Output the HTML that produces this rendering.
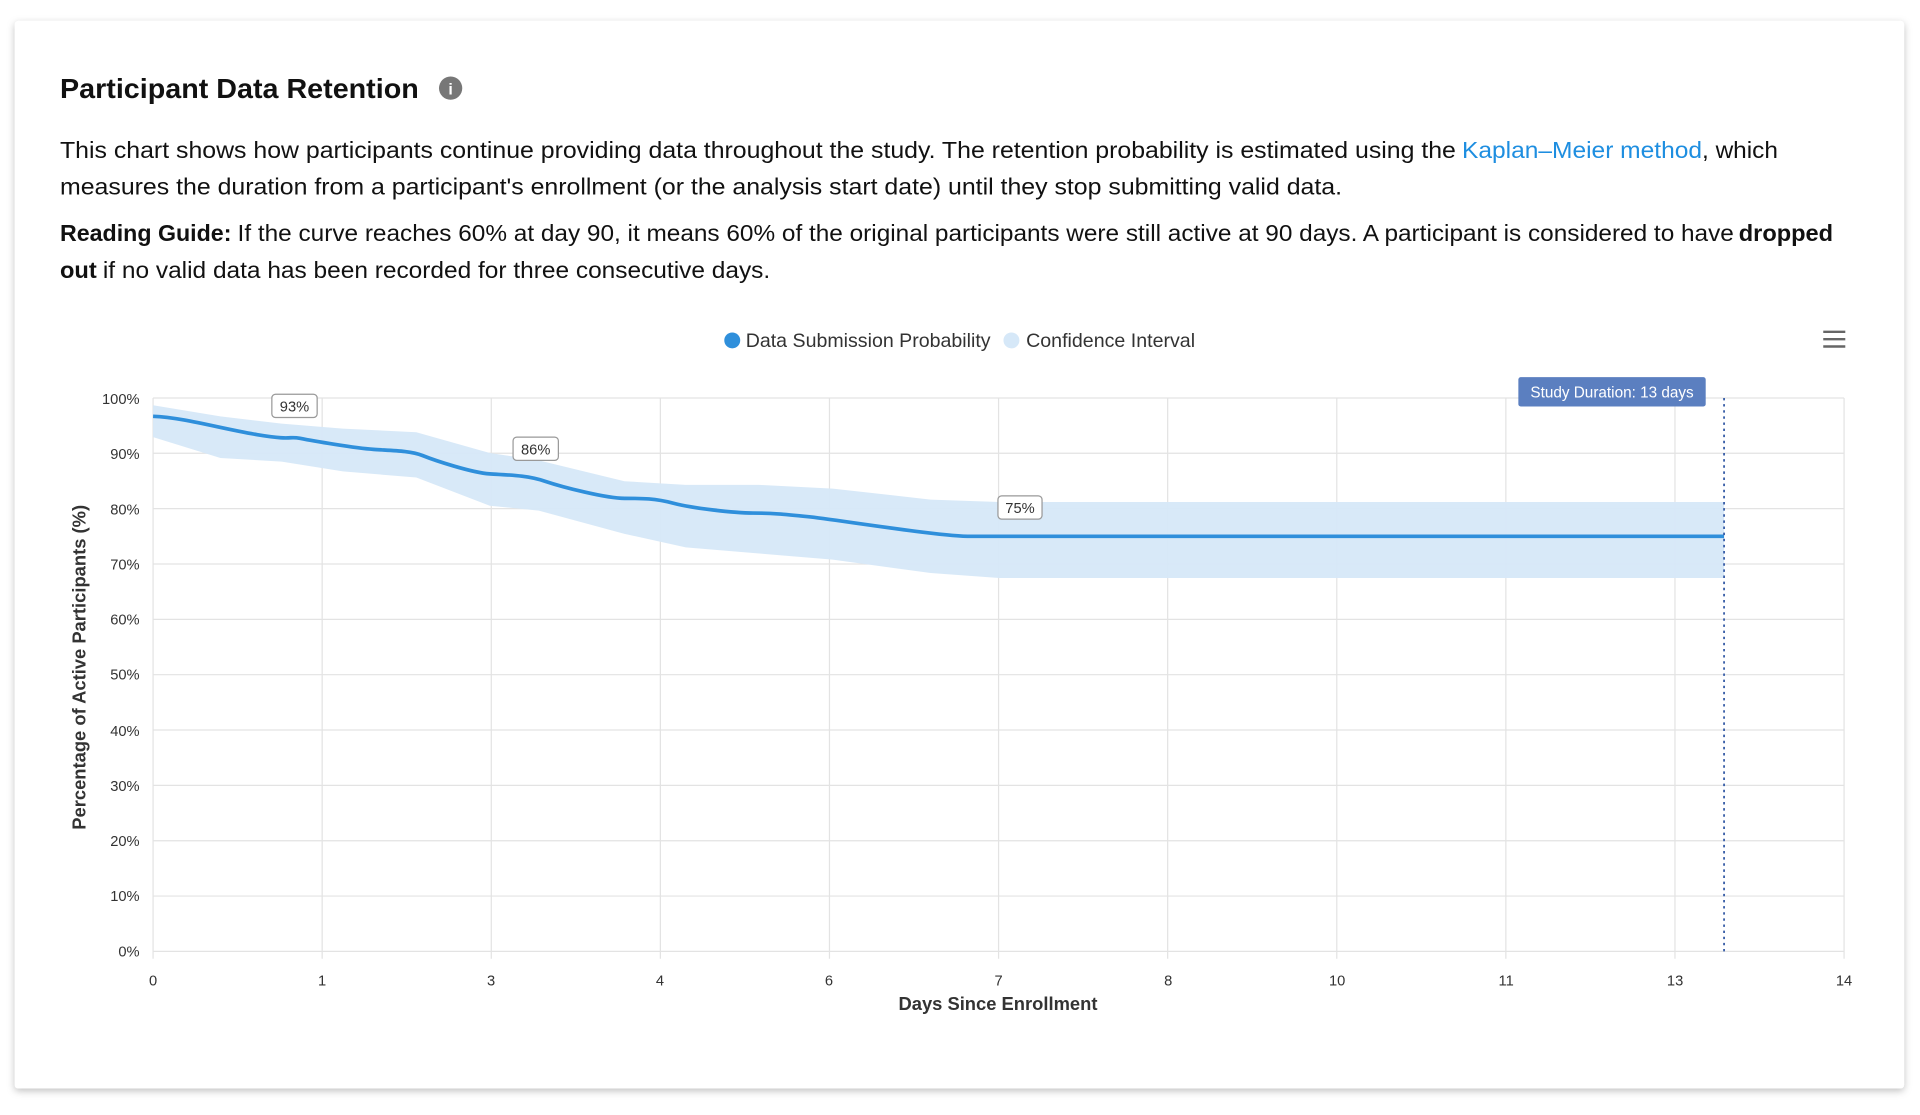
<!DOCTYPE html>
<html><head><meta charset="utf-8"><style>
html,body{margin:0;padding:0;background:#fff;width:1920px;height:1115px;overflow:hidden}
svg{display:block}
text{font-family:"Liberation Sans",Arial,sans-serif}
</style></head><body>
<svg width="1920" height="1115" viewBox="0 0 1568 910.6" xmlns="http://www.w3.org/2000/svg">
<defs><filter id="sh" x="-5%" y="-5%" width="110%" height="115%"><feDropShadow dx="0" dy="2" stdDeviation="3" flood-color="#000" flood-opacity="0.25"/></filter></defs>
<rect x="0" y="0" width="1568" height="911" fill="#fff"/>
<rect x="12" y="17" width="1543" height="872" rx="3" fill="#fff" filter="url(#sh)"/>
<text x="49" y="80" font-size="23" font-weight="bold" fill="#111" textLength="293" lengthAdjust="spacingAndGlyphs">Participant Data Retention</text>
<circle cx="368" cy="72" r="9.5" fill="#777"/><text x="368" y="77" font-size="13" font-weight="bold" fill="#fff" text-anchor="middle">i</text>
<g font-size="19" fill="#111">
<text x="49" y="129" textLength="1140" lengthAdjust="spacingAndGlyphs">This chart shows how participants continue providing data throughout the study. The retention probability is estimated using the</text>
<text x="1194" y="129" fill="#1e8ee0" textLength="196" lengthAdjust="spacingAndGlyphs">Kaplan–Meier method</text>
<text x="1390" y="129" textLength="62" lengthAdjust="spacingAndGlyphs">, which</text>
<text x="49" y="159" textLength="1047" lengthAdjust="spacingAndGlyphs">measures the duration from a participant's enrollment (or the analysis start date) until they stop submitting valid data.</text>
<text x="49" y="197" font-weight="bold" textLength="140" lengthAdjust="spacingAndGlyphs">Reading Guide:</text>
<text x="194" y="197" textLength="1222" lengthAdjust="spacingAndGlyphs">If the curve reaches 60% at day 90, it means 60% of the original participants were still active at 90 days. A participant is considered to have</text>
<text x="1420" y="197" font-weight="bold" textLength="77" lengthAdjust="spacingAndGlyphs">dropped</text>
<text x="49" y="227" font-weight="bold" textLength="30" lengthAdjust="spacingAndGlyphs">out</text>
<text x="84" y="227" textLength="545" lengthAdjust="spacingAndGlyphs">if no valid data has been recorded for three consecutive days.</text>
</g>
<circle cx="598" cy="278" r="6.5" fill="#2f8fdb"/>
<text x="609" y="283.5" font-size="15.5" fill="#333" textLength="200" lengthAdjust="spacingAndGlyphs">Data Submission Probability</text>
<circle cx="826" cy="278" r="6.5" fill="#d6e8f8"/>
<text x="838" y="283.5" font-size="15.5" fill="#333" textLength="138" lengthAdjust="spacingAndGlyphs">Confidence Interval</text>
<g stroke="#666" stroke-width="2"><line x1="1489" y1="271" x2="1507" y2="271"/><line x1="1489" y1="277" x2="1507" y2="277"/><line x1="1489" y1="283" x2="1507" y2="283"/></g>
<g stroke="#e3e3e3" stroke-width="1">
<line x1="125" y1="325" x2="1506" y2="325"/><line x1="125" y1="370.2" x2="1506" y2="370.2"/><line x1="125" y1="415.4" x2="1506" y2="415.4"/><line x1="125" y1="460.6" x2="1506" y2="460.6"/><line x1="125" y1="505.8" x2="1506" y2="505.8"/><line x1="125" y1="551" x2="1506" y2="551"/><line x1="125" y1="596.2" x2="1506" y2="596.2"/><line x1="125" y1="641.4" x2="1506" y2="641.4"/><line x1="125" y1="686.6" x2="1506" y2="686.6"/><line x1="125" y1="731.8" x2="1506" y2="731.8"/><line x1="125" y1="777" x2="1506" y2="777"/>
<line x1="125" y1="325" x2="125" y2="783"/><line x1="263.1" y1="325" x2="263.1" y2="783"/><line x1="401.2" y1="325" x2="401.2" y2="783"/><line x1="539.3" y1="325" x2="539.3" y2="783"/><line x1="677.4" y1="325" x2="677.4" y2="783"/><line x1="815.5" y1="325" x2="815.5" y2="783"/><line x1="953.6" y1="325" x2="953.6" y2="783"/><line x1="1091.7" y1="325" x2="1091.7" y2="783"/><line x1="1229.8" y1="325" x2="1229.8" y2="783"/><line x1="1367.9" y1="325" x2="1367.9" y2="783"/><line x1="1506" y1="325" x2="1506" y2="783"/>
</g>
<g font-size="12" fill="#333" text-anchor="end">
<text x="114" y="330">100%</text><text x="114" y="375">90%</text><text x="114" y="420">80%</text><text x="114" y="465">70%</text><text x="114" y="510">60%</text><text x="114" y="555">50%</text><text x="114" y="601">40%</text><text x="114" y="646">30%</text><text x="114" y="691">20%</text><text x="114" y="736">10%</text><text x="114" y="781">0%</text>
</g>
<g font-size="12" fill="#333" text-anchor="middle">
<text x="125" y="805">0</text><text x="263" y="805">1</text><text x="401" y="805">3</text><text x="539" y="805">4</text><text x="677" y="805">6</text><text x="815.5" y="805">7</text><text x="954" y="805">8</text><text x="1092" y="805">10</text><text x="1230" y="805">11</text><text x="1368" y="805">13</text><text x="1506" y="805">14</text>
</g>
<text x="815" y="825" font-size="15" font-weight="bold" fill="#333" text-anchor="middle">Days Since Enrollment</text>
<text transform="translate(70,545) rotate(-90)" font-size="15" font-weight="bold" fill="#333" text-anchor="middle">Percentage of Active Participants (%)</text>
<path d="M125,331 L180,340 L230,346 L280,350 L340,353 L400,370 L440,376 L510,393 L560,396 L620,396 L680,399 L760,408 L816,410 L1408,410 L1408,472 L816,472 L760,468 L680,457 L620,452 L560,447 L510,436 L440,417 L400,413 L340,390 L280,385 L230,377 L180,374 L125,357 Z" fill="#d6e8f8" opacity="0.95"/>
<path d="M125,340 C150,341 180,350 210,355 S235,356 245,358 S290,366 305,367 S335,368 345,372 S385,386 400,387 S430,388 445,393 S495,407 510,407 S535,407 550,411 S600,419 615,419 S640,420 660,422 S760,437 790,438 L1408,438" fill="none" stroke="#2f8fdb" stroke-width="3"/>
<line x1="1408" y1="325" x2="1408" y2="777" stroke="#3a5fa8" stroke-width="1.5" stroke-dasharray="2,3"/>
<rect x="1240" y="308" width="153" height="24" rx="2" fill="#5b7fc0"/>
<text x="1316.5" y="324.5" font-size="12.5" fill="#fff" text-anchor="middle">Study Duration: 13 days</text>
<g font-size="12" fill="#333" text-anchor="middle">
<rect x="222" y="322" width="37" height="19" rx="3" fill="#fff" stroke="#999"/><text x="240.5" y="336">93%</text>
<rect x="419" y="357" width="37" height="19" rx="3" fill="#fff" stroke="#999"/><text x="437.5" y="371">86%</text>
<rect x="815" y="405" width="36" height="19" rx="3" fill="#fff" stroke="#999"/><text x="833" y="419">75%</text>
</g>
</svg>
</body></html>
